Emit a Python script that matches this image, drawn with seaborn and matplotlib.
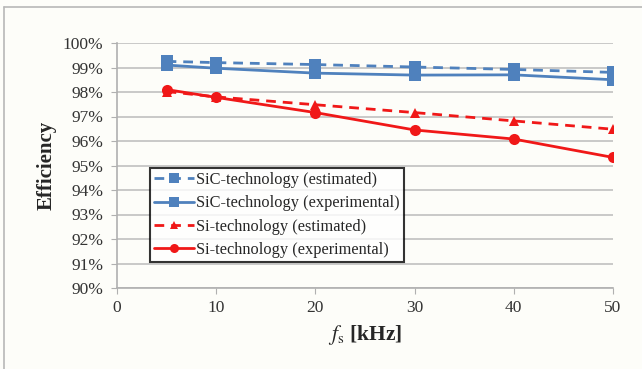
import matplotlib
matplotlib.use("Agg")
import matplotlib.pyplot as plt
import seaborn as sns
import pandas as pd
from matplotlib.lines import Line2D

freq_khz = [5, 10, 20, 30, 40, 50]
sic_estimated = [99.25, 99.2, 99.12, 99.02, 98.92, 98.8]
sic_experimental = [99.1, 98.97, 98.77, 98.69, 98.7, 98.5]
si_estimated = [98.02, 97.8, 97.48, 97.16, 96.82, 96.48]
si_experimental = [98.1, 97.78, 97.16, 96.45, 96.08, 95.33]

series_names = ["SiC-technology (estimated)", "SiC-technology (experimental)",
                "Si-technology (estimated)", "Si-technology (experimental)"]
y_ticks = [90, 91, 92, 93, 94, 95, 96, 97, 98, 99, 100]
x_ticks = [0, 10, 20, 30, 40, 50]

sns.set_style("white")
plt.rcParams["font.family"] = ["Liberation Serif", "DejaVu Serif"]
plt.rcParams["mathtext.fontset"] = "stix"

bg = "#FDFDF9"
blue = "#4F81BD"
red = "#F01818"

fig = plt.figure(figsize=(6.42, 3.69), dpi=100, facecolor=bg)
ax = fig.add_axes([117/642, 1-288/369, (613-117)/642, (288-43)/369])
ax.set_facecolor(bg)

styles = [
    dict(color=blue, dashes=(3.5, 2.5), marker="s", ms=8),
    dict(color=blue, dashes=None, marker="s", ms=8),
    dict(color=red, dashes=(3.5, 2.5), marker="^", ms=7.5),
    dict(color=red, dashes=None, marker="o", ms=8),
]
data = [sic_estimated, sic_experimental, si_estimated, si_experimental]
handles = []
for name, vals, st in zip(series_names, data, styles):
    df = pd.DataFrame({"f": freq_khz, "eff": vals})
    kw = dict(color=st["color"], linewidth=2,
              marker=st["marker"], markersize=st["ms"], markeredgewidth=0)
    line_ax = sns.lineplot(data=df, x="f", y="eff", ax=ax, **kw)
    ln = line_ax.lines[-1]
    if st["dashes"] is not None:
        ln.set_dashes(st["dashes"])
    h = Line2D([], [], color=st["color"], linewidth=2, marker=st["marker"],
               markersize=st["ms"] - 1.5, markeredgewidth=0)
    if st["dashes"] is not None:
        h.set_dashes(st["dashes"])
    handles.append(h)

ax.set_xlim(0, 50)
ax.set_ylim(90, 100)
ax.set_xticks(x_ticks)
ax.set_yticks(y_ticks)
ax.set_yticklabels([f"{t}%" for t in y_ticks])
ax.yaxis.grid(True, color="#C0C0C0", linewidth=1.2)
ax.set_axisbelow(True)
for s in ["top", "right"]:
    ax.spines[s].set_visible(False)
for s in ["left", "bottom"]:
    ax.spines[s].set_color("#B0B0B0")
    ax.spines[s].set_linewidth(1.2)
ax.tick_params(axis="x", which="both", bottom=True, length=4, color="#B0B0B0",
               labelsize=12.5, pad=5, labelcolor="#333333")
ax.tick_params(axis="y", left=True, length=4, color="#B0B0B0", labelsize=12.5,
               pad=6, labelcolor="#333333")

ax.set_xlabel(r"$f_{\rm s}$ [kHz]", fontsize=15.5, fontweight="bold", labelpad=5)
ax.set_ylabel("Efficiency", fontsize=15, fontweight="bold", labelpad=4)

leg = ax.legend(handles, series_names, loc="lower left",
                bbox_to_anchor=(0.067, 0.105), fontsize=11.8, frameon=True,
                fancybox=False, edgecolor="black", handlelength=2.4,
                handletextpad=0.15, borderpad=0.25, labelspacing=0.45,
                borderaxespad=0)
leg.get_frame().set_linewidth(1.5)
leg.get_frame().set_facecolor("white")

# outer frame (left and top edges of the figure border)
fig.add_artist(Line2D([4/642, 4/642], [0, 1-7/369], transform=fig.transFigure,
                      color="#B8B8B8", linewidth=1.2))
fig.add_artist(Line2D([4/642, 1], [1-7/369, 1-7/369], transform=fig.transFigure,
                      color="#B8B8B8", linewidth=1.2))

fig.savefig("out.png", dpi=100, facecolor=bg)
